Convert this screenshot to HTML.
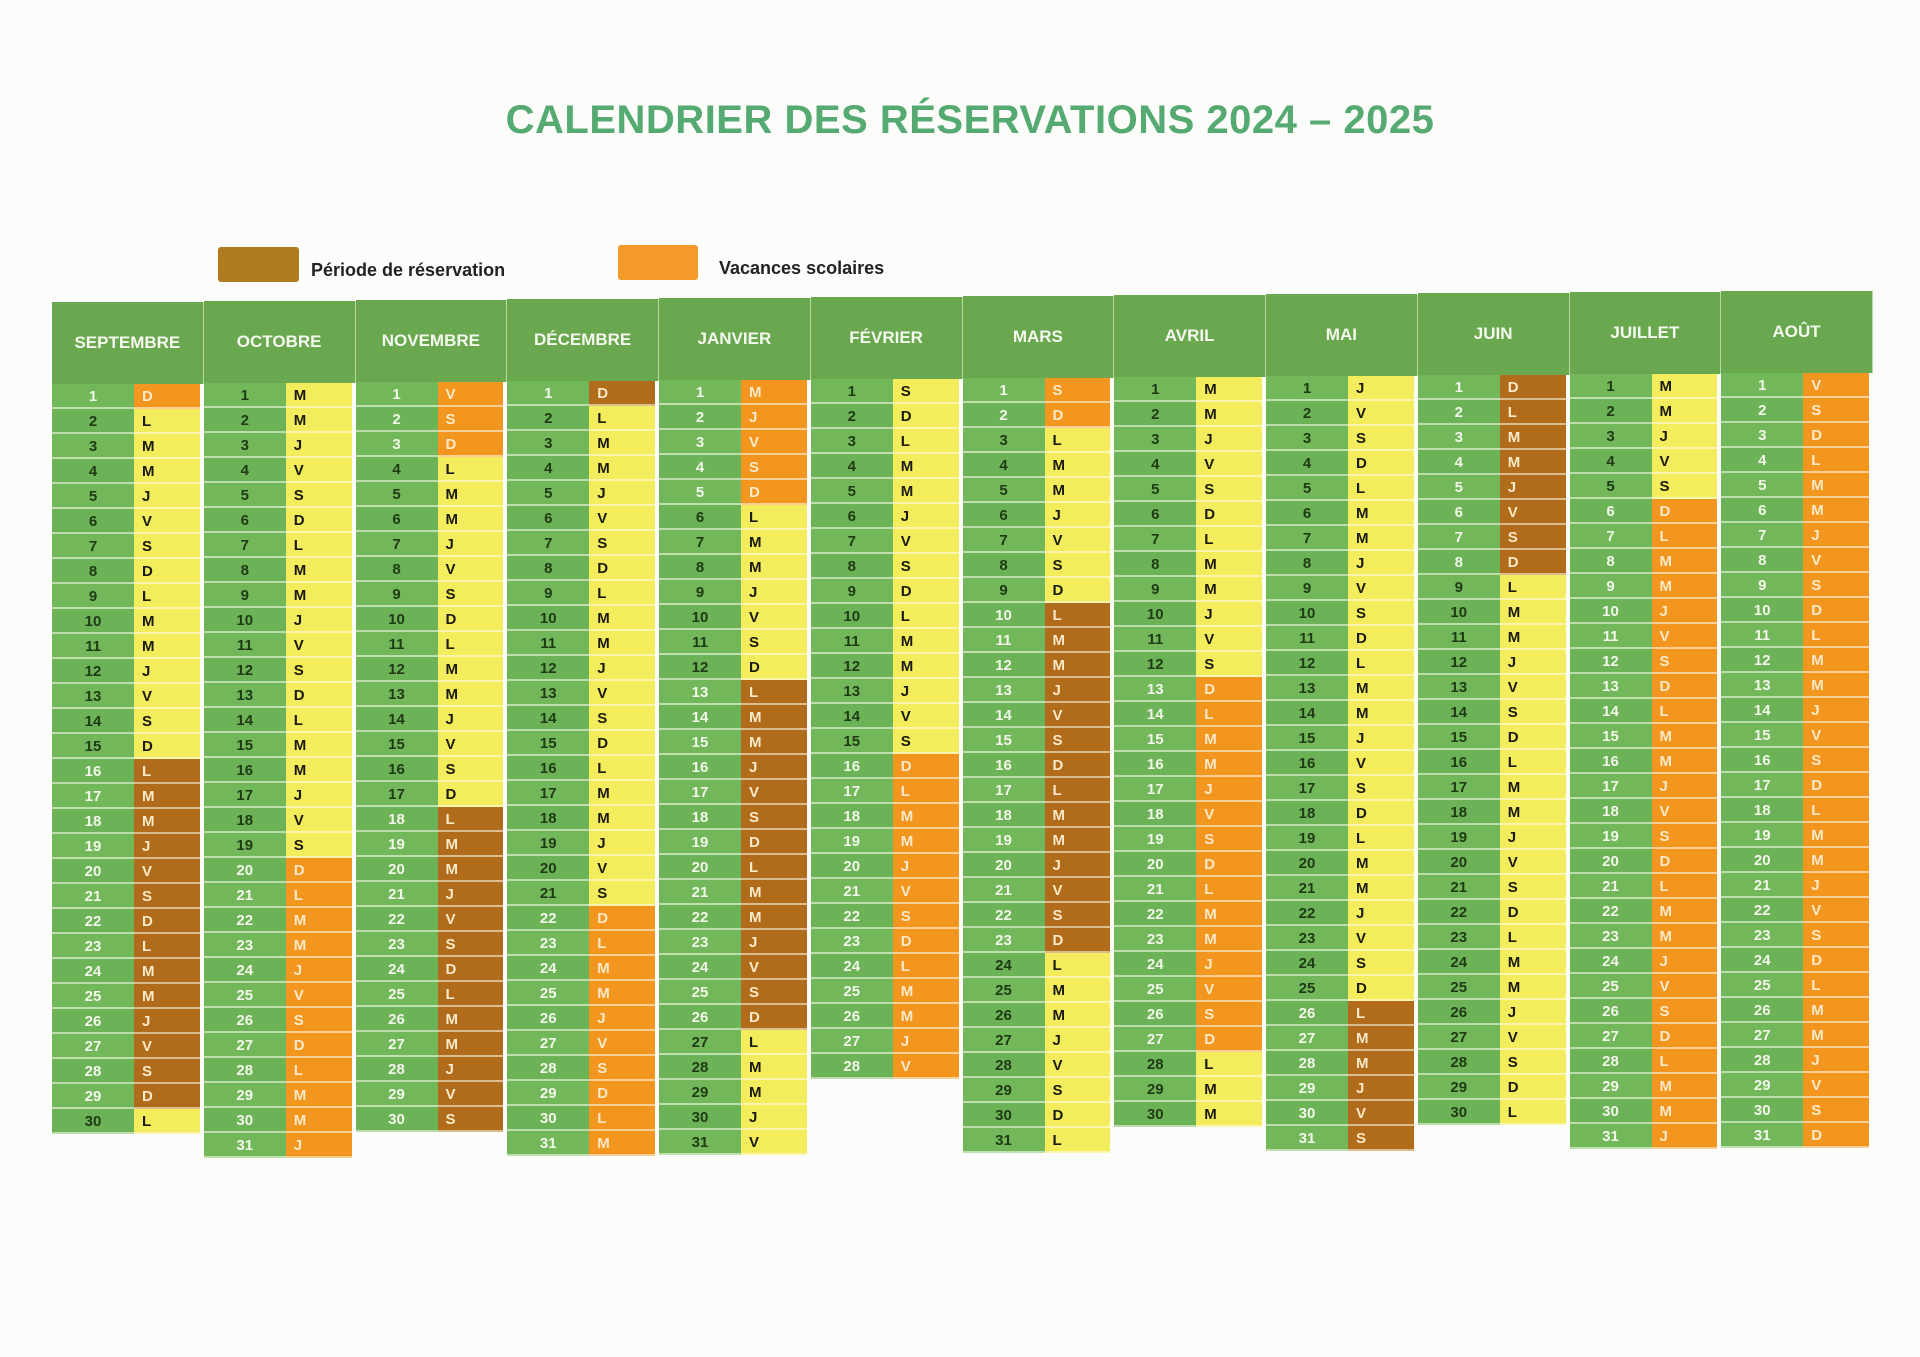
<!DOCTYPE html>
<html><head><meta charset="utf-8">
<style>
body{margin:0;background:#fdfdfb;}
#root{position:relative;width:1920px;height:1357px;overflow:hidden;font-family:"Liberation Sans",sans-serif;background:#fcfcfa;}
.title{position:absolute;left:0;width:1940px;top:98px;text-align:center;font-size:40px;font-weight:bold;color:#55aa72;letter-spacing:0.5px;}
.lg-box{position:absolute;border-radius:3px;}
.lg-text{position:absolute;font-size:18px;font-weight:bold;color:#222;}
.cell{position:absolute;box-sizing:border-box;font-weight:bold;font-size:15px;border-bottom:2px solid rgba(255,255,240,0.55);}
.hdr{position:absolute;box-sizing:border-box;background:#6aa84f;color:#f4f8ee;font-weight:bold;font-size:17px;display:flex;align-items:center;justify-content:center;border-right:1px solid #b8d8a8;}
</style></head>
<body>
<div id="root">
<div class="title">CALENDRIER DES RÉSERVATIONS 2024 – 2025</div>
<div class="lg-box" style="left:218px;top:247px;width:81px;height:35px;background:#b07a1e"></div>
<div class="lg-text" style="left:311px;top:260px">Période de réservation</div>
<div class="lg-box" style="left:618px;top:245px;width:80px;height:35px;background:#f39a2a"></div>
<div class="lg-text" style="left:719px;top:258px">Vacances scolaires</div>
<div id="grid"></div>
</div>
<script>
const months=["SEPTEMBRE","OCTOBRE","NOVEMBRE","DÉCEMBRE","JANVIER","FÉVRIER","MARS","AVRIL","MAI","JUIN","JUILLET","AOÛT"];
const monthYears=[2024,2024,2024,2024,2025,2025,2025,2025,2025,2025,2025,2025];
const monthIndex=[8,9,10,11,0,1,2,3,4,5,6,7];
const dayLetters=["D","L","M","M","J","V","S"];
// [month position, first day, last day]
const vacationRanges=[[0,1,1],[1,20,31],[2,1,3],[3,22,31],[4,1,5],[5,16,28],[6,1,2],[7,13,27],[10,6,31],[11,1,31]];
const reservationRanges=[[0,16,29],[2,18,30],[3,1,1],[4,13,26],[6,10,23],[8,26,31],[9,1,8]];

const X0=52,PITCH=151.75,NUMW=82,TOP0=384,ROWH=25,HDRH=82;
const grid=document.getElementById('grid');
function xOf(m){return X0+m*PITCH;}
function yOf(m,d){return TOP0-m*1+(d-1)*ROWH;}
function status(m,d){
  for(const r of reservationRanges) if(r[0]===m&&d>=r[1]&&d<=r[2]) return 'res';
  for(const r of vacationRanges) if(r[0]===m&&d>=r[1]&&d<=r[2]) return 'vac';
  return 'none';
}
months.forEach((name,m)=>{
  const h=document.createElement('div');
  h.className='hdr';
  
  
  h.style.left=xOf(m)+'px';h.style.top=(yOf(m,1)-HDRH)+'px';
  h.style.width=PITCH+'px';h.style.height=HDRH+'px';
  h.textContent=name;grid.appendChild(h);
  const nd=new Date(monthYears[m],monthIndex[m]+1,0).getDate();
  for(let d=1;d<=nd;d++){
    const s=status(m,d);
    const wd=new Date(monthYears[m],monthIndex[m],d).getDay();
    const n=document.createElement('div');
    n.className='cell';
    
    
    n.style.left=xOf(m)+'px';n.style.top=yOf(m,d)+'px';
    n.style.width=NUMW+'px';n.style.height=ROWH+'px';
    n.style.background=(d%2?'#72b85a':'#6cb257');
    n.style.color=s==='none'?'#1f3a14':'#f2f7ea';
    n.style.textAlign='center';n.style.lineHeight=ROWH+'px';
    n.textContent=d;grid.appendChild(n);
    const l=document.createElement('div');
    l.className='cell';
    
    
    l.style.left=(xOf(m)+NUMW)+'px';l.style.top=yOf(m,d)+'px';
    l.style.width=(PITCH-NUMW-4)+'px';l.style.height=ROWH+'px';
    l.style.background=s==='res'?'#b06c1a':(s==='vac'?'#f2961f':'#f3ec5c');
    l.style.color=s==='none'?'#1a1a10':'#fbe9c8';
    l.style.paddingLeft='8px';l.style.lineHeight=ROWH+'px';
    l.textContent=dayLetters[wd];grid.appendChild(l);
  }
});
</script>
</body></html>
